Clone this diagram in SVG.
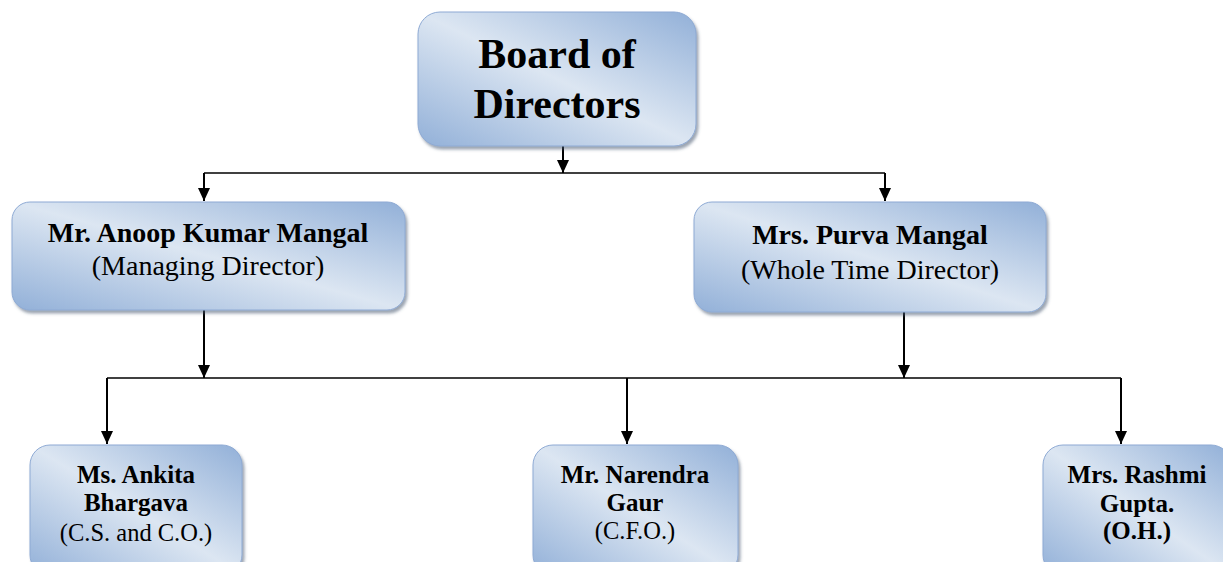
<svg xmlns="http://www.w3.org/2000/svg" width="1223" height="562" viewBox="0 0 1223 562">
<defs>
<linearGradient id="g" x1="1" y1="0" x2="0" y2="1">
<stop offset="0" stop-color="#92b0d8"/>
<stop offset="0.5" stop-color="#dce6f2"/>
<stop offset="1" stop-color="#92b0d8"/>
</linearGradient>
<filter id="sh" x="-10%" y="-10%" width="120%" height="130%">
<feDropShadow dx="2" dy="3" stdDeviation="1.5" flood-color="#4a5a70" flood-opacity="0.55"/>
</filter>
<marker id="ah" markerUnits="userSpaceOnUse" markerWidth="14" markerHeight="12" refX="13" refY="6" orient="auto" viewBox="0 0 14 12">
<path d="M0,0 L13,6 L0,12 Z" fill="#000"/>
</marker>
</defs>
<style>
.box{fill:url(#g);stroke:#8eaad4;stroke-width:1;filter:url(#sh)}
.t{font-family:"Liberation Serif","Times New Roman",serif;text-anchor:middle;fill:#000}
.b{font-weight:bold}
.ln{stroke:#000;stroke-width:1.5;fill:none}
.ar{stroke:#000;stroke-width:2;fill:none}
</style>
<rect width="1223" height="562" fill="#fff"/>
<g id="connectors">
<line class="ar" x1="563" y1="146" x2="563" y2="173" marker-end="url(#ah)"/>
<line class="ln" x1="204" y1="173" x2="885" y2="173"/>
<line class="ar" x1="204" y1="173" x2="204" y2="201" marker-end="url(#ah)"/>
<line class="ar" x1="885" y1="173" x2="885" y2="201" marker-end="url(#ah)"/>
<line class="ar" x1="204" y1="310" x2="204" y2="378" marker-end="url(#ah)"/>
<line class="ar" x1="904" y1="312" x2="904" y2="378" marker-end="url(#ah)"/>
<line class="ln" x1="107" y1="378" x2="1121" y2="378"/>
<line class="ar" x1="107" y1="378" x2="107" y2="444" marker-end="url(#ah)"/>
<line class="ar" x1="627" y1="378" x2="627" y2="444" marker-end="url(#ah)"/>
<line class="ar" x1="1121" y1="378" x2="1121" y2="444" marker-end="url(#ah)"/>
</g>
<g id="board">
<rect class="box" x="418" y="12" width="278" height="134" rx="22"/>
<text class="t b" x="557" y="68" font-size="42">Board of</text>
<text class="t b" x="557" y="118" font-size="42">Directors</text>
</g>
<g id="anoop">
<rect class="box" x="12" y="202" width="393" height="108" rx="18"/>
<text class="t b" x="208" y="242" font-size="28">Mr. Anoop Kumar Mangal</text>
<text class="t" x="208" y="275" font-size="28">(Managing Director)</text>
</g>
<g id="purva">
<rect class="box" x="694" y="202" width="352" height="110" rx="18"/>
<text class="t b" x="870" y="244" font-size="28">Mrs. Purva Mangal</text>
<text class="t" x="870" y="279" font-size="28">(Whole Time Director)</text>
</g>
<g id="ankita">
<rect class="box" x="30" y="445" width="212" height="130" rx="20"/>
<text class="t b" x="136" y="483" font-size="25">Ms. Ankita</text>
<text class="t b" x="136" y="511" font-size="25">Bhargava</text>
<text class="t" x="136" y="541" font-size="24.5">(C.S. and C.O.)</text>
</g>
<g id="narendra">
<rect class="box" x="533" y="445" width="205" height="130" rx="20"/>
<text class="t b" x="635" y="483" font-size="25">Mr. Narendra</text>
<text class="t b" x="635" y="511" font-size="25">Gaur</text>
<text class="t" x="635" y="539" font-size="24.5">(C.F.O.)</text>
</g>
<g id="rashmi">
<rect class="box" x="1043" y="445" width="188" height="130" rx="20"/>
<text class="t b" x="1137" y="483" font-size="25">Mrs. Rashmi</text>
<text class="t b" x="1137" y="512" font-size="25">Gupta.</text>
<text class="t b" x="1137" y="539" font-size="25">(O.H.)</text>
</g>
</svg>
